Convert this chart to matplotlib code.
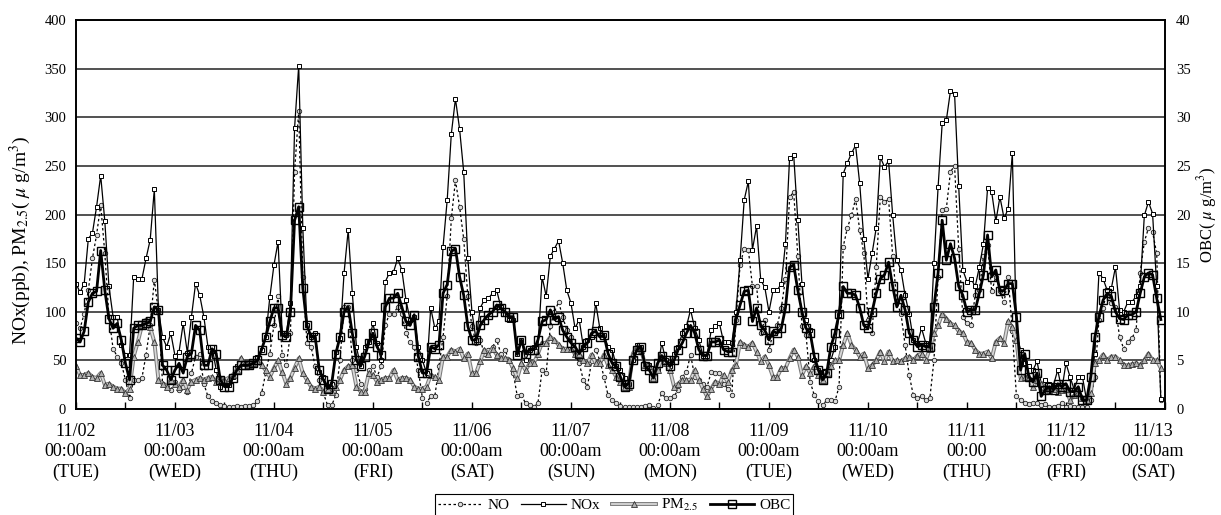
import matplotlib
matplotlib.use('Agg')
import matplotlib.pyplot as plt
import matplotlib.patheffects as pe
from matplotlib.transforms import ScaledTranslation
import numpy as np

# hourly values, 11/02 00:00 -> 11/12 23:00 (one row per day)
no = [88, 83, 98, 122, 155, 179, 210, 160, 95, 62, 54, 47, 30, 11, 30, 30, 32, 56, 86, 133, 100, 26, 23, 20,
      28, 20, 23, 18, 37, 54, 57, 26, 13, 8, 6, 4, 3, 2, 2, 3, 2, 3, 3, 4, 8, 16, 37, 57,
      86, 116, 56, 45, 78, 244, 306, 136, 68, 64, 44, 30, 16, 4, 4, 14, 50, 105, 105, 50, 40, 26, 21, 40,
      44, 33, 44, 86, 98, 98, 105, 98, 78, 69, 64, 40, 11, 6, 13, 13, 44, 74, 116, 196, 235, 208, 175, 116,
      85, 68, 71, 57, 61, 64, 71, 57, 61, 50, 37, 13, 14, 6, 4, 2, 6, 40, 37, 85, 100, 110, 95, 81,
      74, 57, 47, 30, 23, 49, 61, 50, 33, 14, 9, 6, 3, 2, 2, 2, 2, 2, 3, 4, 1, 4, 16, 11,
      11, 13, 20, 33, 38, 56, 33, 30, 26, 23, 38, 37, 37, 26, 21, 14, 92, 148, 165, 164, 126, 127, 78, 92,
      61, 78, 86, 104, 134, 218, 223, 157, 85, 76, 28, 14, 8, 4, 9, 9, 8, 23, 167, 186, 199, 216, 184, 160,
      92, 78, 146, 218, 213, 216, 157, 110, 98, 66, 35, 14, 11, 13, 9, 11, 50, 136, 205, 206, 244, 250, 165, 95,
      88, 86, 117, 122, 157, 169, 121, 136, 121, 110, 136, 80, 13, 9, 6, 5, 6, 6, 4, 5, 2, 2, 3, 6,
      2, 3, 2, 2, 2, 2, 9, 33, 92, 104, 122, 109, 105, 74, 62, 69, 73, 81, 140, 172, 186, 182, 160, 9]

nox = [129, 120, 129, 175, 181, 208, 240, 193, 126, 95, 95, 66, 56, 56, 136, 134, 134, 155, 174, 226, 102, 74, 64, 78,
       55, 59, 88, 58, 95, 129, 117, 95, 64, 64, 40, 23, 26, 25, 33, 44, 47, 47, 47, 47, 54, 61, 74, 115,
       148, 172, 78, 76, 109, 289, 353, 186, 86, 74, 78, 38, 33, 23, 26, 59, 73, 140, 184, 119, 64, 44, 64, 69,
       88, 68, 50, 131, 140, 141, 155, 143, 112, 92, 95, 64, 50, 37, 104, 83, 90, 167, 215, 283, 319, 288, 244, 155,
       100, 71, 104, 112, 114, 119, 122, 105, 98, 92, 92, 57, 71, 50, 61, 64, 64, 136, 116, 157, 165, 173, 150, 122,
       109, 83, 92, 64, 71, 74, 109, 83, 76, 64, 61, 44, 40, 32, 26, 50, 66, 64, 44, 45, 30, 40, 68, 50,
       44, 57, 64, 78, 85, 102, 83, 71, 55, 55, 81, 85, 88, 69, 69, 68, 100, 153, 215, 234, 164, 188, 133, 125,
       100, 122, 122, 129, 170, 258, 261, 194, 129, 92, 81, 50, 40, 38, 37, 50, 64, 97, 242, 253, 263, 271, 232, 175,
       134, 160, 186, 259, 249, 255, 199, 153, 143, 117, 98, 71, 68, 83, 68, 64, 150, 228, 294, 297, 327, 324, 229, 143,
       131, 134, 126, 146, 170, 227, 223, 193, 218, 196, 206, 263, 76, 61, 47, 44, 40, 49, 26, 30, 26, 25, 40, 20,
       47, 33, 20, 33, 33, 9, 26, 57, 140, 134, 122, 124, 146, 102, 100, 110, 110, 116, 126, 199, 213, 201, 126, 10]

pm25 = [44, 35, 35, 37, 33, 32, 37, 25, 26, 23, 21, 21, 16, 21, 54, 69, 86, 92, 84, 69, 30, 26, 23, 30,
        26, 23, 30, 20, 28, 30, 32, 30, 32, 33, 28, 32, 30, 32, 35, 40, 52, 47, 45, 47, 49, 45, 40, 33,
        42, 50, 38, 26, 32, 42, 52, 37, 30, 23, 21, 23, 18, 21, 18, 23, 30, 40, 44, 45, 23, 18, 18, 37,
        35, 28, 30, 32, 32, 40, 30, 32, 32, 30, 23, 21, 21, 23, 35, 33, 30, 54, 54, 61, 59, 62, 52, 57,
        37, 37, 49, 61, 57, 62, 56, 52, 52, 50, 42, 32, 47, 40, 47, 47, 57, 68, 68, 74, 71, 66, 62, 62,
        62, 57, 57, 50, 47, 56, 47, 47, 56, 45, 40, 33, 28, 23, 23, 57, 64, 61, 45, 44, 32, 40, 52, 47,
        40, 23, 26, 30, 30, 30, 40, 30, 21, 13, 21, 28, 26, 35, 28, 40, 45, 69, 66, 64, 68, 59, 49, 54,
        45, 33, 33, 42, 42, 52, 61, 54, 35, 44, 37, 44, 35, 30, 37, 44, 50, 50, 66, 78, 66, 61, 54, 57,
        42, 45, 50, 59, 49, 59, 49, 50, 49, 52, 54, 50, 55, 57, 50, 62, 78, 86, 98, 93, 88, 86, 80, 78,
        69, 68, 61, 57, 57, 59, 52, 69, 73, 68, 90, 84, 71, 32, 33, 33, 23, 30, 26, 23, 20, 21, 18, 20,
        21, 9, 14, 18, 11, 9, 16, 47, 50, 56, 50, 54, 54, 50, 45, 45, 46, 47, 45, 50, 57, 50, 50, 42]

obc = [7.3, 6.9, 8.0, 11.0, 11.9, 12.1, 16.3, 12.2, 9.3, 8.3, 8.8, 7.1, 4.7, 3.0, 8.3, 8.6, 8.6, 8.8, 9.0, 10.5, 10.2, 4.5, 4.0, 3.0,
       4.0, 4.7, 3.7, 5.4, 5.7, 8.6, 8.1, 4.5, 4.5, 6.2, 5.7, 3.0, 2.3, 2.3, 3.2, 4.0, 4.5, 4.5, 4.5, 4.7, 5.0, 6.1, 7.4, 9.0,
       10.4, 10.4, 7.6, 7.4, 10.0, 19.4, 20.8, 12.4, 8.6, 7.4, 7.4, 4.0, 3.0, 2.1, 2.6, 5.7, 7.4, 10.0, 10.5, 7.8, 5.0, 4.4, 5.4, 6.8,
       7.8, 6.4, 5.6, 10.5, 11.4, 11.4, 11.9, 10.5, 9.0, 8.6, 9.7, 5.4, 3.7, 3.7, 6.4, 6.2, 6.6, 11.9, 12.8, 16.2, 16.5, 13.6, 11.7, 8.5,
       7.1, 7.1, 8.6, 9.2, 9.7, 10.0, 10.7, 10.4, 10.0, 9.5, 9.5, 5.6, 7.1, 5.7, 6.1, 6.1, 7.1, 9.0, 9.2, 10.2, 9.2, 9.5, 8.1, 7.4,
       6.8, 6.4, 5.7, 6.4, 6.8, 7.8, 8.0, 7.4, 7.6, 5.7, 4.7, 4.4, 3.3, 2.3, 2.6, 5.0, 6.1, 6.4, 4.4, 4.0, 3.2, 4.7, 5.5, 5.0,
       4.4, 5.0, 6.1, 6.8, 7.8, 8.6, 7.8, 6.1, 5.5, 5.5, 6.9, 6.9, 7.1, 6.1, 5.9, 5.9, 9.2, 10.7, 12.1, 12.2, 9.0, 10.4, 8.6, 8.1,
       7.1, 8.0, 7.8, 8.3, 10.4, 14.6, 14.8, 12.2, 10.0, 8.3, 7.8, 5.4, 4.0, 3.0, 3.7, 6.4, 7.8, 9.8, 12.6, 11.9, 11.9, 11.7, 10.4, 8.6,
       8.3, 10.0, 11.9, 13.4, 13.8, 15.1, 12.6, 10.5, 11.7, 10.2, 7.8, 7.1, 6.4, 6.6, 6.4, 6.4, 10.5, 14.0, 19.4, 15.3, 17.0, 15.5, 12.6, 11.7,
       10.0, 10.2, 10.2, 11.9, 13.8, 17.9, 13.6, 14.3, 12.1, 12.2, 12.9, 12.9, 9.5, 4.0, 5.7, 3.3, 2.8, 3.7, 1.3, 2.0, 2.3, 2.0, 2.6, 2.3,
       2.6, 1.8, 1.8, 2.3, 0.9, 0.9, 3.3, 7.4, 9.5, 11.2, 11.9, 11.6, 10.0, 9.3, 9.2, 9.7, 9.7, 10.0, 11.9, 13.6, 14.0, 13.8, 11.4, 9.2]

dates = ['11/02', '11/03', '11/04', '11/05', '11/06', '11/07', '11/08',
         '11/09', '11/10', '11/11', '11/12', '11/13']
times = ['00:00am'] * 9 + ['00:00'] + ['00:00am'] * 2
weekdays = ['TUE', 'WED', 'THU', 'FRI', 'SAT', 'SUN', 'MON',
            'TUE', 'WED', 'THU', 'FRI', 'SAT']

plt.rcParams['font.family'] = ['Liberation Serif', 'DejaVu Serif']
plt.rcParams['mathtext.fontset'] = 'stix'

fig = plt.figure(figsize=(12.21, 5.15), dpi=100)
ax = fig.add_axes([0.0622, 0.2058, 0.8919, 0.7553])
hours = np.arange(len(nox))

no_line, = ax.plot(hours, no, color='black', lw=0.9, ls=(0, (2, 2)), marker='o', ms=3.2,
                   mfc='#dddddd', mec='#222222', mew=0.6)
nox_line, = ax.plot(hours, nox, color='black', lw=0.9, marker='s', ms=3.2,
                    mfc='white', mec='black', mew=0.7)
pm_line, = ax.plot(hours, pm25, color='#d8d8d8', lw=1.3,
                   path_effects=[pe.Stroke(linewidth=2.8, foreground='#7a7a7a'), pe.Normal()])
pm_mark, = ax.plot(hours, pm25, ls='none', marker='^', ms=4.5,
                   mfc='#b0b0b0', mec='#333333', mew=0.6)

ax.set_xlim(0, 264)
ax.set_ylim(0, 400)
ax.set_yticks(range(0, 401, 50))
ax.yaxis.grid(True, color='#222222', lw=1.1)
ax.set_axisbelow(True)
ax.tick_params(axis='y', length=0, labelsize=10.5, pad=7)

ax.set_xticks(range(0, 265, 24))
ax.set_xticks(range(12, 264, 24), minor=True)
ax.set_xticklabels([f'{d}\n{t}\n({w})' for d, t, w in zip(dates, times, weekdays)],
                   fontsize=13, linespacing=1.25)
ax.tick_params(axis='x', which='both', direction='in', length=5, width=1, pad=10)
last = ax.get_xticklabels()[-1]
last.set_transform(last.get_transform() + ScaledTranslation(-0.12, 0, fig.dpi_scale_trans))

ax.set_ylabel('NOx(ppb), PM$_{2.5}$( $\\mu$ g/m$^3$)', fontsize=14)
ax.yaxis.set_label_coords(-0.039, 0.434)

ax2 = ax.twinx()
obc_line, = ax2.plot(hours, obc, color='black', lw=2.0, marker='s', ms=6,
                     mfc='none', mec='black', mew=1.0)
ax2.set_ylim(0, 40)
ax2.set_yticks(range(0, 41, 5))
ax2.tick_params(axis='y', length=0, labelsize=10.5, pad=8)
ax2.set_ylabel('OBC( $\\mu$ g/m$^3$)', fontsize=12)
ax2.yaxis.set_label_coords(1.028, 0.5)

for a in (ax, ax2):
    for s in a.spines.values():
        s.set_linewidth(1.2)
        s.set_color('black')

leg = fig.legend([no_line, nox_line, (pm_line, pm_mark), obc_line],
                 ['NO', 'NOx', 'PM$_{2.5}$', 'OBC'],
                 loc='upper center', bbox_to_anchor=(0.503, 0.041), borderaxespad=0, ncol=4,
                 fancybox=False, edgecolor='black', framealpha=1, fontsize=11,
                 handlelength=2.9, handletextpad=0.3, columnspacing=0.8, borderpad=0.2)
leg.get_frame().set_linewidth(0.8)

fig.savefig('out.png', dpi=100)
